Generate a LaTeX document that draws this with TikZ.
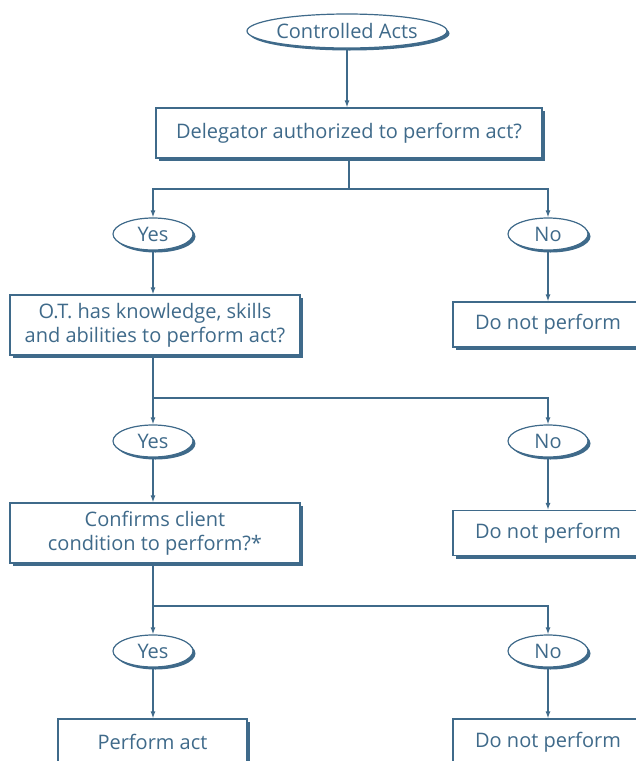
\documentclass[tikz,border=0pt]{standalone}
\usepackage{fontspec}
\setmainfont{Open Sans}
\usetikzlibrary{shapes.geometric,arrows.meta,shadows}
\definecolor{main}{HTML}{3F6A8A}
\begin{document}
\begin{tikzpicture}[x=1pt,y=-1pt,
  font=\fontsize{20}{24}\selectfont, text=main,
  box/.style={draw=main, line width=1.2pt, fill=white, rectangle, align=center,
    drop shadow={shadow xshift=3pt, shadow yshift=-3pt, fill=main, opacity=1}},
  oval/.style={draw=main, line width=1.2pt, fill=white, ellipse, inner sep=0pt,
    drop shadow={shadow xshift=2.5pt, shadow yshift=-2.5pt, fill=main, opacity=1}},
  conn/.style={draw=main, line width=1.2pt},
  arr/.style={conn, -{Latex[length=7pt,width=5pt]}}]
\useasboundingbox (0,0) rectangle (636,761);
\node[oval, minimum width=190, minimum height=34] (ca) at (347,31) {Controlled Acts};
\node[box, minimum width=386, minimum height=50] (q1) at (349,133) {Delegator authorized to perform act?};
\node[oval, minimum width=80, minimum height=32] (y1) at (153,234) {Yes};
\node[oval, minimum width=80, minimum height=32] (n1) at (548,234) {No};
\node[box, minimum width=290, minimum height=60] (q2) at (155,325) {O.T. has knowledge, skills\\and abilities to perform act?};
\node[box, minimum width=190, minimum height=45] (d1) at (548,324.5) {Do not perform};
\node[oval, minimum width=80, minimum height=32] (y2) at (153,441) {Yes};
\node[oval, minimum width=80, minimum height=32] (n2) at (548,441) {No};
\node[box, minimum width=290, minimum height=60] (q3) at (155,533) {Confirms client\\condition to perform?*};
\node[box, minimum width=190, minimum height=45] (d2) at (548,533) {Do not perform};
\node[oval, minimum width=80, minimum height=32] (y3) at (153,651) {Yes};
\node[oval, minimum width=80, minimum height=32] (n3) at (548,651) {No};
\node[box, minimum width=189, minimum height=46] (pa) at (152.5,742) {Perform act};
\node[box, minimum width=190, minimum height=46] (d3) at (548,742) {Do not perform};
\coordinate (j1) at (349,189);
\coordinate (j2) at (153,398);
\coordinate (j3) at (153,606);
\draw[arr] (ca) -- (ca.south |- q1.north);
\draw[conn] (q1.south -| j1) -- (j1);
\draw[arr] (j1) -| (y1.north);
\draw[arr] (j1) -| (n1.north);
\draw[arr] (y1) -- (y1.south |- q2.north);
\draw[arr] (n1) -- (d1);
\draw[conn] (q2.south -| j2) -- (j2);
\draw[arr] (j2) -- (y2);
\draw[arr] (j2) -| (n2.north);
\draw[arr] (y2) -- (y2.south |- q3.north);
\draw[arr] (n2) -- (d2);
\draw[conn] (q3.south -| j3) -- (j3);
\draw[arr] (j3) -- (y3);
\draw[arr] (j3) -| (n3.north);
\draw[arr] (y3) -- (y3.south |- pa.north);
\draw[arr] (n3) -- (d3);
\end{tikzpicture}
\end{document}
